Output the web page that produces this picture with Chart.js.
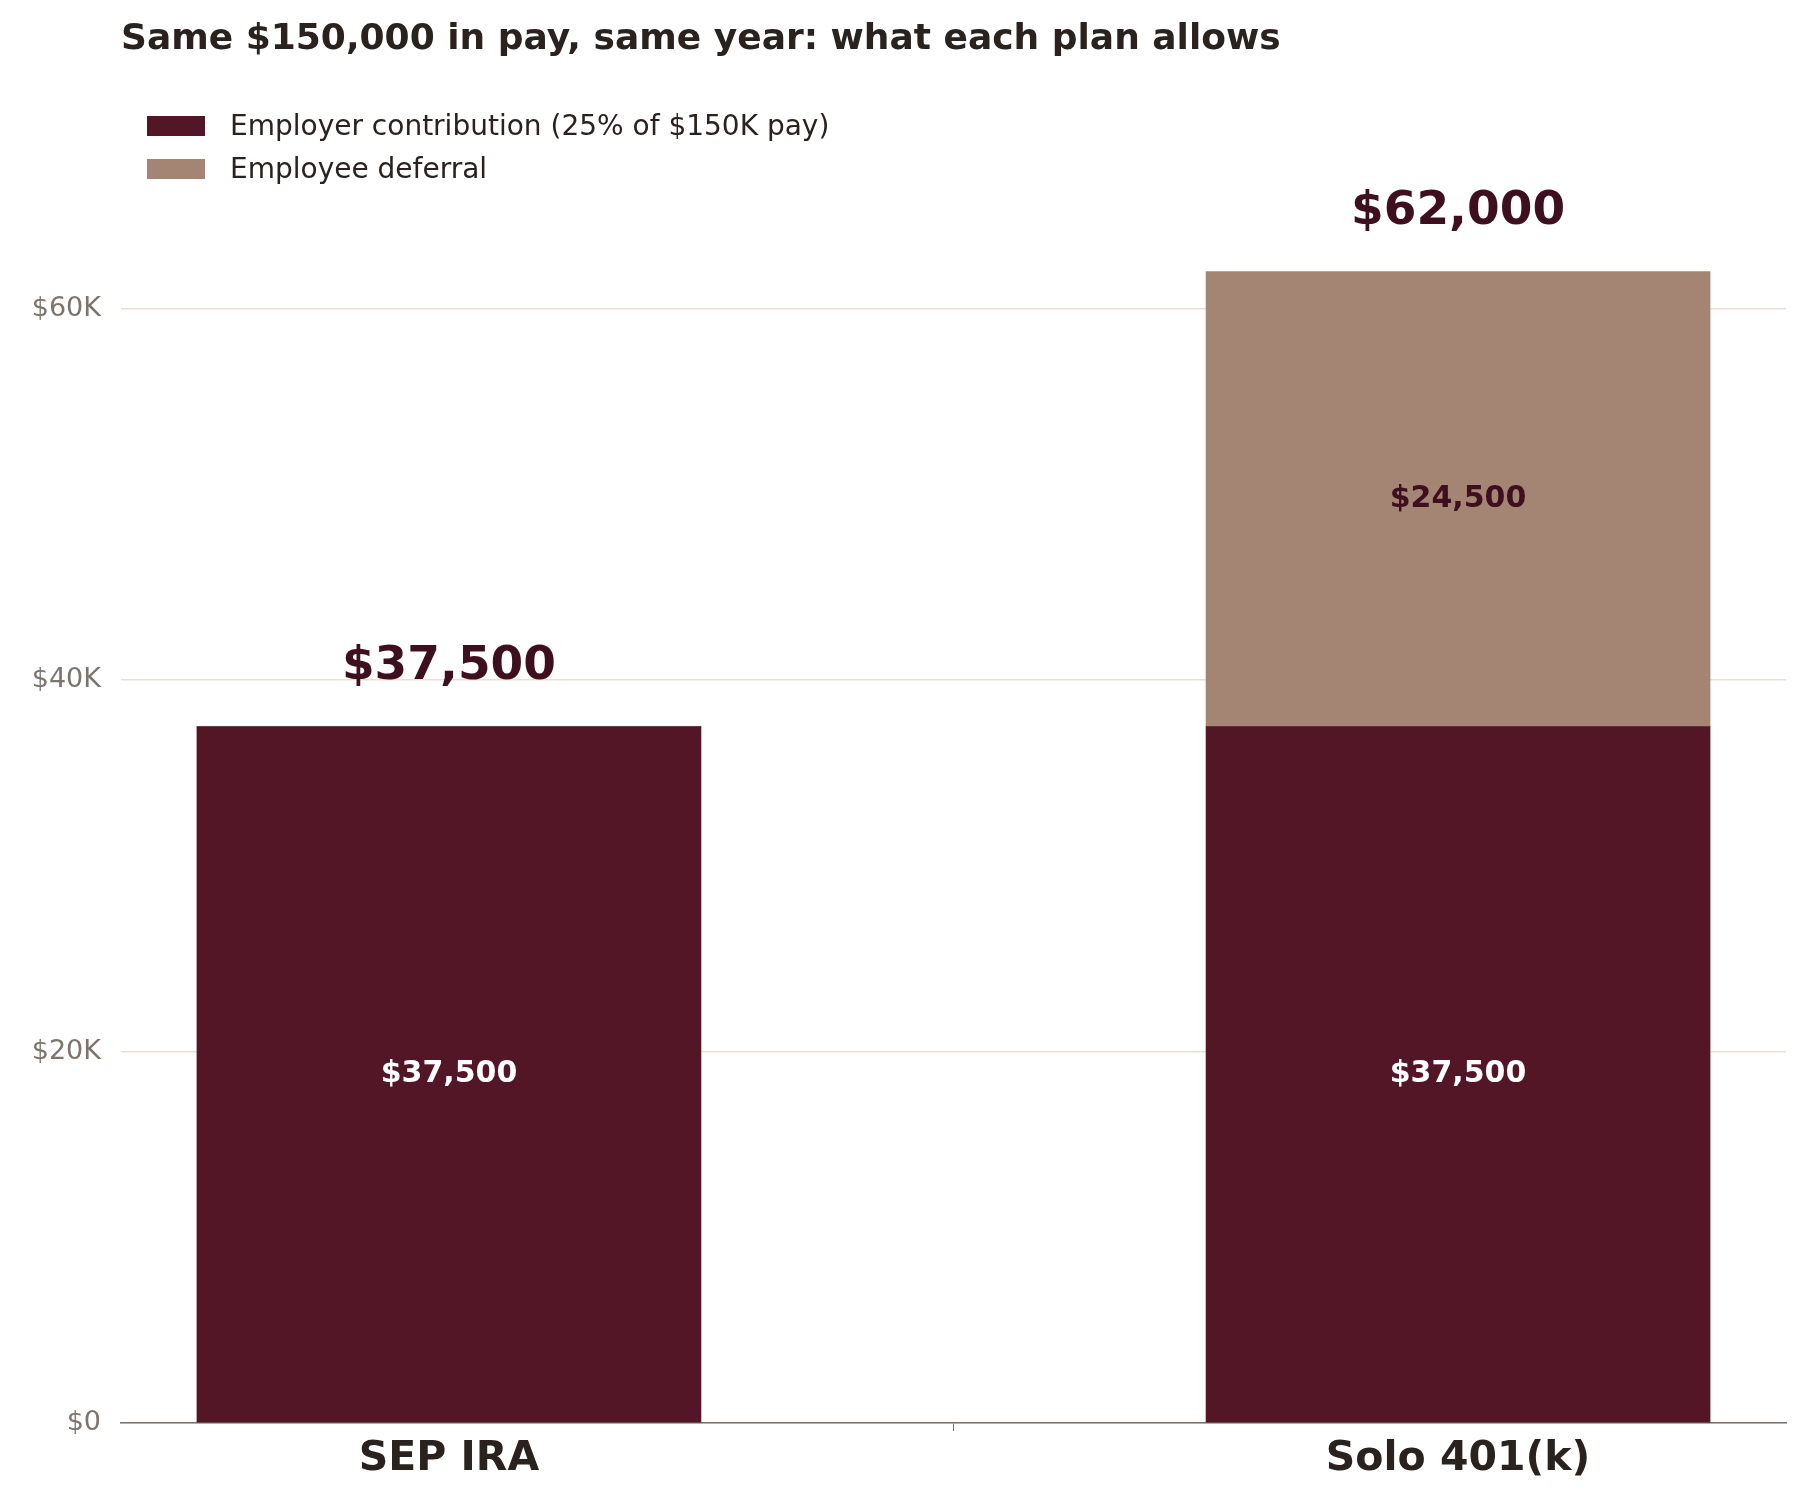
<!DOCTYPE html>
<html><head><meta charset="utf-8">
<script src="https://cdn.jsdelivr.net/npm/chart.js@4"></script>
<style>
body{margin:0;background:#fff;font-family:"DejaVu Sans",sans-serif;}
#wrap{position:relative;width:1800px;height:1500px;}
canvas{position:absolute;left:0;top:0;}
#title{position:absolute;left:121px;top:16px;font-size:36px;font-weight:bold;color:#2a221e;}
.leg{position:absolute;left:147px;font-size:28px;color:#2a221e;display:flex;align-items:center;}
.leg span{display:inline-block;width:58px;height:20px;margin-right:25px;}
</style></head><body>
<div id="wrap">
<canvas id="c" width="1800" height="1500"></canvas>
<div id="title">Same $150,000 in pay, same year: what each plan allows</div>
<div class="leg" style="top:109px"><span style="background:#521626"></span>Employer contribution (25% of $150K pay)</div>
<div class="leg" style="top:152px"><span style="background:#a48573"></span>Employee deferral</div>
</div>
<script>
const categories=["SEP IRA","Solo 401(k)"];
const employer=[37500,37500];
const deferral=[0,24500];
const yTicks=[0,20000,40000,60000];
const fmt=v=>"$"+v.toLocaleString("en-US");
const labels={id:"lbl",afterDatasetsDraw(ch){
 const c=ch.ctx;c.save();c.textAlign="center";c.textBaseline="middle";
 ch.data.datasets.forEach((ds,di)=>{ch.getDatasetMeta(di).data.forEach((b,i)=>{
  const v=ds.data[i].y;if(!v)return;
  c.font="bold 30px 'DejaVu Sans'";c.fillStyle=di==0?"#fff":"#3d0f1f";
  c.fillText(fmt(v),b.x,(b.y+b.base)/2);});});
 const m=ch.getDatasetMeta(1);
 categories.forEach((k,i)=>{const t=employer[i]+deferral[i];
  const y=ch.scales.y.getPixelForValue(t);
  c.font="bold 47px 'DejaVu Sans'";c.fillStyle="#3d0f1f";
  c.fillText(fmt(t),m.data[i].x,y-60);});
 c.restore();}};
const mk=a=>a.map((v,i)=>({x:i,y:v}));
new Chart(document.getElementById("c"),{type:"bar",
 data:{datasets:[
  {data:mk(employer),backgroundColor:"#521626",barThickness:504},
  {data:mk(deferral),backgroundColor:"#a48573",barThickness:504}]},
 options:{responsive:false,animation:false,devicePixelRatio:1,
  layout:{padding:{top:123,right:14,left:0,bottom:0}},
  plugins:{legend:{display:false},tooltip:{enabled:false}},
  scales:{
   x:{type:"linear",stacked:true,min:-0.325,max:1.325,offset:false,
      afterBuildTicks(s){s.ticks=[{value:0},{value:1}];},
      grid:{display:true,drawOnChartArea:false,drawTicks:true,tickLength:8,color:"#7a706a"},
      border:{display:true,color:"#7a706a",width:1.5},
      ticks:{color:"#2a221e",font:{size:41,weight:"bold",family:"DejaVu Sans"},padding:4,
        callback:v=>categories[v]},
      afterFit(s){s.height=77;}},
   y:{stacked:true,min:0,max:70000,
      afterBuildTicks(s){s.ticks=yTicks.map(v=>({value:v}));},
      grid:{color:"#eadfd6",lineWidth:1.5,drawTicks:false},border:{display:false},
      ticks:{color:"#7d746d",font:{size:27,family:"DejaVu Sans"},padding:20,
        callback:v=>v==0?"$0":"$"+(v/1000)+"K"},
      afterFit(s){s.width=121;}}}},
 plugins:[labels]});
</script></body></html>
